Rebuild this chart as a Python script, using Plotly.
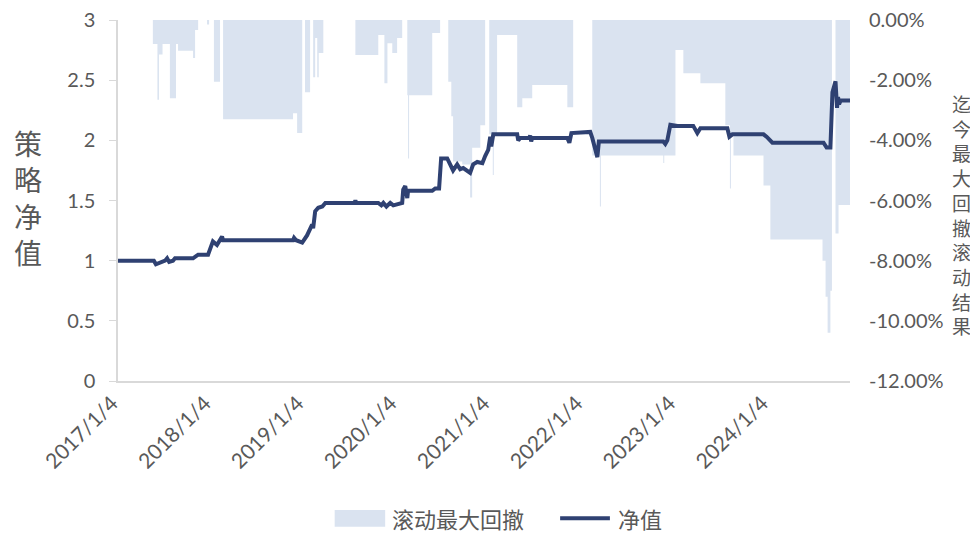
import plotly.graph_objects as go

# ── Data ─────────────────────────────────────────────────────────────────────
nav_dates = [
    "2017-01-04", "2017-05-25", "2017-06-02", "2017-06-14", "2017-06-22", "2017-07-08",
    "2017-07-16", "2017-07-24", "2017-08-08", "2017-08-16", "2017-08-24", "2017-10-26",
    "2017-11-15", "2017-12-24", "2018-01-12", "2018-01-28", "2018-02-17", "2018-02-21",
    "2018-11-23", "2018-11-27", "2018-12-05", "2018-12-29", "2019-01-17", "2019-02-06",
    "2019-02-10", "2019-02-18", "2019-03-02", "2019-03-18", "2019-03-30", "2019-07-22",
    "2019-07-26", "2019-07-30", "2019-10-24", "2019-11-05", "2019-11-13", "2019-11-25",
    "2019-12-10", "2019-12-22", "2020-01-26", "2020-01-30", "2020-02-07", "2020-02-15",
    "2020-02-18", "2020-05-23", "2020-06-04", "2020-06-19", "2020-06-27", "2020-07-21",
    "2020-08-13", "2020-08-29", "2020-09-10", "2020-09-22", "2020-10-19", "2020-10-31",
    "2020-11-16", "2020-12-06", "2020-12-17", "2020-12-29", "2021-01-06", "2021-01-10",
    "2021-01-18", "2021-04-22", "2021-04-26", "2021-05-04", "2021-06-08", "2021-06-12",
    "2021-06-16", "2021-06-20", "2021-11-05", "2021-11-13", "2021-11-21", "2022-02-03",
    "2022-02-11", "2022-03-03", "2022-03-09", "2022-11-17", "2022-11-25", "2022-12-03",
    "2022-12-15", "2023-01-12", "2023-03-15", "2023-03-31", "2023-04-12", "2023-07-27",
    "2023-08-04", "2023-08-16", "2023-12-16", "2023-12-28", "2024-01-20", "2024-08-08",
    "2024-08-20", "2024-09-04", "2024-09-12", "2024-09-24", "2024-09-30", "2024-10-04",
    "2024-10-08", "2024-10-14", "2024-11-20",
]
nav_values = [
    1.00, 1.00, 0.97, 0.98, 0.98, 1.00,
    1.02, 0.99, 1.00, 1.02, 1.02, 1.02,
    1.05, 1.05, 1.16, 1.13, 1.20, 1.17,
    1.17, 1.19, 1.17, 1.15, 1.21, 1.30,
    1.27, 1.41, 1.44, 1.45, 1.48, 1.48,
    1.50, 1.48, 1.48, 1.46, 1.48, 1.45,
    1.48, 1.46, 1.48, 1.59, 1.62, 1.52,
    1.58, 1.58, 1.60, 1.60, 1.85, 1.85,
    1.75, 1.80, 1.76, 1.77, 1.73, 1.80,
    1.82, 1.81, 1.87, 1.92, 2.03, 1.95,
    2.05, 2.05, 2.00, 2.02, 2.02, 2.04,
    1.99, 2.02, 2.02, 1.98, 2.06, 2.07,
    2.02, 1.86, 1.99, 1.99, 1.97, 2.00,
    2.13, 2.12, 2.12, 2.06, 2.10, 2.10,
    2.03, 2.05, 2.05, 2.03, 1.98, 1.98,
    1.94, 1.94, 2.40, 2.49, 2.27, 2.36,
    2.30, 2.33, 2.33,
]

# rolling max drawdown, in percent (step series)
dd_dates = [
    "2017-01-04", "2017-05-21", "2017-06-08", "2017-06-14", "2017-06-28", "2017-07-27",
    "2017-08-20", "2017-08-28", "2017-10-26", "2017-11-03", "2017-11-15", "2017-12-20",
    "2017-12-28", "2018-01-16", "2018-02-09", "2018-02-21", "2018-11-23", "2018-12-09",
    "2018-12-29", "2019-01-09", "2019-01-29", "2019-02-10", "2019-02-18", "2019-02-26",
    "2019-03-04", "2019-03-22", "2019-07-26", "2019-10-24", "2019-11-17", "2019-11-29",
    "2019-12-18", "2020-01-06", "2020-01-26", "2020-02-15", "2020-02-18", "2020-02-22",
    "2020-05-23", "2020-06-23", "2020-07-25", "2020-08-06", "2020-08-13", "2020-09-18",
    "2020-10-19", "2020-10-27", "2020-11-28", "2020-12-17", "2021-01-02", "2021-01-16",
    "2021-01-20", "2021-02-02", "2021-04-22", "2021-05-12", "2021-06-20", "2021-11-05",
    "2021-11-28", "2022-02-11", "2022-03-13", "2022-03-17", "2022-11-17", "2022-11-21",
    "2023-01-04", "2023-02-04", "2023-04-12", "2023-07-19", "2023-08-06", "2023-08-10",
    "2023-08-20", "2023-12-16", "2024-01-12", "2024-08-04", "2024-08-16", "2024-08-24",
    "2024-09-04", "2024-09-10", "2024-09-24", "2024-10-06", "2024-11-20",
]
dd_values = [
    0.0, -0.8, -2.65, -1.15, -0.8, -2.6,
    -0.8, -1.02, -1.26, -0.33, 0.0, -0.15,
    0.0, -2.05, 0.0, -3.3, -3.1, -3.76,
    0.0, -2.4, 0.0, -1.9, -0.6, -1.9,
    -1.1, 0.0, -1.16, -0.5, -2.1, -0.77,
    -1.1, -0.6, 0.0, -2.5, -4.6, -2.5,
    -0.43, 0.0, -2.05, -3.2, -4.7, -4.8,
    -5.9, -4.25, -3.5, 0.0, -3.8, -5.15,
    -3.8, -0.5, -2.9, -2.6, -2.16, -2.9,
    0.0, -4.5, -6.2, -4.5, -4.75, -4.5,
    -1.0, -1.77, -2.1, -3.5, -5.6, -3.8,
    -4.5, -5.5, -7.3, -8.0, -9.2, -10.4,
    -9.0, 0.0, -7.1, -6.15, -6.15,
]

x_tick_dates = ["2017-01-04", "2018-01-04", "2019-01-04", "2020-01-04",
                "2021-01-04", "2022-01-04", "2023-01-04", "2024-01-04"]
x_tick_labels = ["2017/1/4", "2018/1/4", "2019/1/4", "2020/1/4",
                 "2021/1/4", "2022/1/4", "2023/1/4", "2024/1/4"]
nav_ticks = [0, 0.5, 1, 1.5, 2, 2.5, 3]
nav_tick_labels = ["0", "0.5", "1", "1.5", "2", "2.5", "3"]
dd_ticks = [0, -2, -4, -6, -8, -10, -12]
dd_tick_labels = ["0.00%", "-2.00%", "-4.00%", "-6.00%", "-8.00%", "-10.00%", "-12.00%"]

DD_NAME = "滚动最大回撤"
NAV_NAME = "净值"

FILL = "#DAE3F0"
NAVY = "#2F4172"
GREY = "#595959"
AXIS = "#D9D9D9"
FONT = "Lato, Noto Sans CJK SC, sans-serif"
CJK = "Noto Sans CJK SC, sans-serif"

fig = go.Figure()

# drawdown area (primary y, on the right) — drawn under the line
fig.add_trace(go.Scatter(
    x=dd_dates, y=dd_values,
    mode="lines",
    line=dict(width=0, shape="hv", color=FILL),
    fill="tozeroy",
    fillcolor=FILL,
    name=DD_NAME,
    yaxis="y",
))

# net value line (overlay axis, on the left)
fig.add_trace(go.Scatter(
    x=nav_dates, y=nav_values,
    mode="lines",
    line=dict(width=4, color=NAVY),
    name=NAV_NAME,
    yaxis="y2",
))

# ── Legend drawn by hand so the swatches match the Excel look ────────────────
legend_shapes = [
    dict(type="rect", xref="paper", yref="paper",
         x0=0.296, x1=0.365, y0=-0.404, y1=-0.357,
         fillcolor=FILL, line=dict(width=0)),
    dict(type="line", xref="paper", yref="paper",
         x0=0.604, x1=0.672, y0=-0.380, y1=-0.380,
         line=dict(color=NAVY, width=4)),
]
legend_labels = [
    dict(text=DD_NAME, xref="paper", yref="paper", x=0.372, y=-0.380,
         xanchor="left", yanchor="middle", showarrow=False,
         font=dict(family=CJK, size=22, color=GREY)),
    dict(text=NAV_NAME, xref="paper", yref="paper", x=0.680, y=-0.380,
         xanchor="left", yanchor="middle", showarrow=False,
         font=dict(family=CJK, size=22, color=GREY)),
]

# page is shown with an 8px body margin, so the figure is 8px smaller
fig.update_layout(
    width=970, height=529,
    margin=dict(l=110, r=128, t=12, b=156, autoexpand=False),
    paper_bgcolor="white",
    plot_bgcolor="white",
    font=dict(family=FONT, size=20, color=GREY),
    showlegend=False,
    xaxis=dict(
        type="date",
        range=["2017-01-04", "2024-11-20"],
        tickvals=x_tick_dates,
        ticktext=x_tick_labels,
        tickangle=-45,
        ticklabelshift=-6,
        showline=True, linecolor=AXIS, linewidth=1.5,
        showgrid=False, zeroline=False, ticks="",
        automargin=False,
        tickfont=dict(family=FONT, size=21, color=GREY),
    ),
    yaxis=dict(
        side="right",
        range=[-12, 0],
        tickvals=dd_ticks,
        ticktext=dd_tick_labels,
        showline=False, showgrid=False, zeroline=False, ticks="",
        ticklabelstandoff=18,
        ticklabeloverflow="allow",
        automargin=False,
        tickfont=dict(family=FONT, size=20, color=GREY),
    ),
    yaxis2=dict(
        overlaying="y",
        side="left",
        range=[0, 3],
        tickvals=nav_ticks,
        ticktext=nav_tick_labels,
        showline=True, linecolor=AXIS, linewidth=1.5,
        showgrid=False, zeroline=False,
        ticks="outside", ticklen=7, tickcolor=AXIS,
        ticklabelstandoff=10,
        ticklabeloverflow="allow",
        automargin=False,
        tickfont=dict(family=FONT, size=20, color=GREY),
    ),
    shapes=legend_shapes,
    annotations=[
        dict(text="策<br>略<br>净<br>值", xref="paper", yref="paper",
             x=-0.123, y=0.507, xanchor="center", yanchor="middle",
             showarrow=False, font=dict(family=CJK, size=28, color=GREY)),
        dict(text="<br>".join("迄今最大回撤滚动结果"), xref="paper", yref="paper",
             x=1.152, y=0.46, xanchor="center", yanchor="middle",
             showarrow=False, font=dict(family=CJK, size=19, color=GREY)),
    ] + legend_labels,
)

fig.write_html("out.html")
